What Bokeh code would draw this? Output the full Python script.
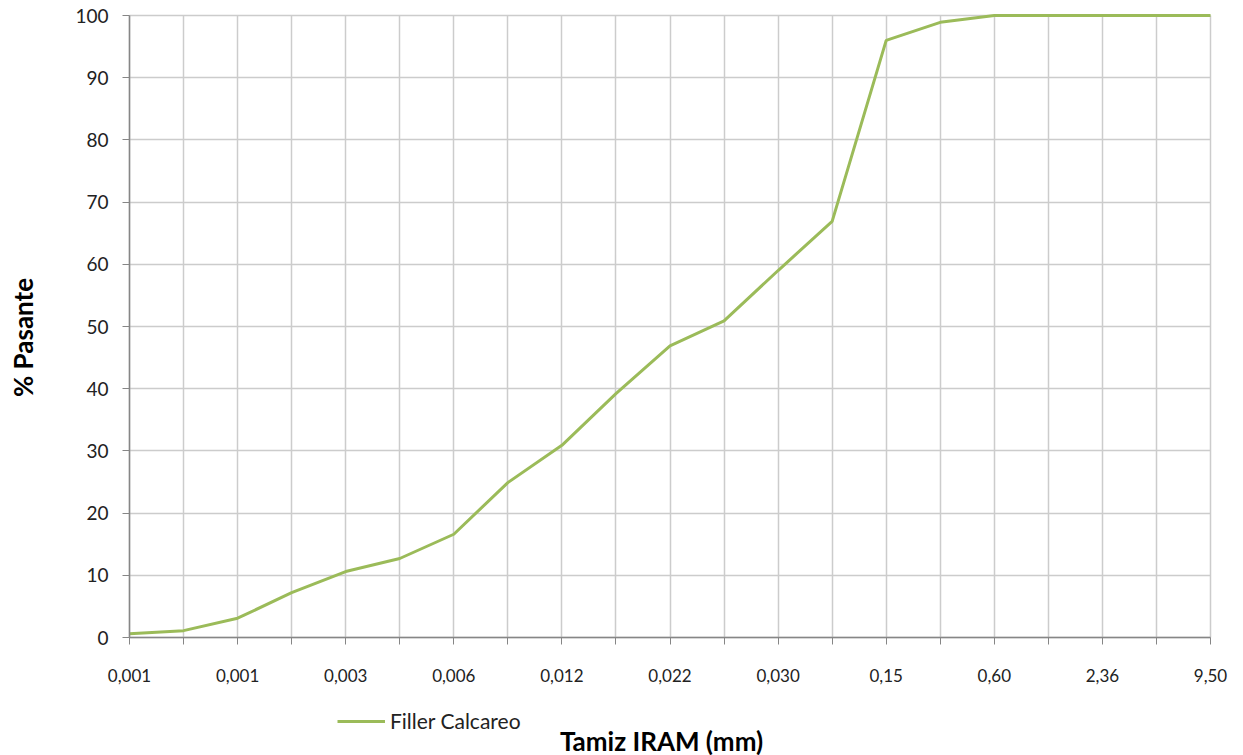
import math
from bokeh.plotting import figure
from bokeh.models import Range1d, FixedTicker, Legend, LegendItem, Label
from bokeh.embed import file_html
from bokeh.resources import INLINE

# data
positions = list(range(21))
pasante = [0.6, 1.1, 3.1, 7.2, 10.6, 12.7, 16.6, 24.9, 30.9, 39.2, 46.9, 50.9,
           59.0, 66.9, 96.0, 98.9, 100, 100, 100, 100, 100]
tick_labels = ["0,001", "0,001", "0,003", "0,006", "0,012", "0,022", "0,030",
               "0,15", "0,60", "2,36", "9,50"]
y_ticks = [0, 10, 20, 30, 40, 50, 60, 70, 80, 90, 100]
series_name = "Filler Calcareo"
x_title = "Tamiz IRAM (mm)"
y_title = "% Pasante"

FONT = "Lato"
W, H = 1243, 755
# plot-area pixel box (axes position)
PL, PR, PT, PB = 129, 1210, 15, 637
kx = (PR - PL) / 20.0
ky = (PB - PT) / 100.0


def px_x(px):
    return (px - PL) / kx


def px_y(py):
    return (PB - py) / ky


p = figure(width=W, height=H, output_backend="svg", toolbar_location=None,
           x_range=Range1d(px_x(0), px_x(W)), y_range=Range1d(px_y(H), px_y(0)),
           min_border_left=0, min_border_right=0, min_border_top=0,
           min_border_bottom=0)
p.outline_line_color = None
p.background_fill_color = "white"

r = p.line(positions, pasante, line_color="#9BBB59", line_width=3)

# x axis, pinned at y = 0
p.xaxis.fixed_location = 0
p.xaxis.bounds = (0, 20)
p.xaxis.ticker = FixedTicker(ticks=positions)
overrides = {}
for i in positions:
    overrides[i] = tick_labels[i // 2] if i % 2 == 0 else ""
p.xaxis.major_label_overrides = overrides
p.xaxis.minor_tick_line_color = None
p.xaxis.major_tick_in = 0
p.xaxis.major_tick_out = 7
p.xaxis.axis_line_color = "#868686"
p.xaxis.axis_line_width = 1.5
p.xaxis.major_tick_line_color = "#868686"
p.xaxis.major_label_text_font = FONT
p.xaxis.major_label_text_font_size = "17px"
p.xaxis.major_label_text_color = "#222222"
p.xaxis.major_label_standoff = 24

# y axis, pinned at x = 0
p.yaxis.fixed_location = 0
p.yaxis.bounds = (0, 100)
p.yaxis.ticker = FixedTicker(ticks=y_ticks)
p.yaxis.minor_tick_line_color = None
p.yaxis.major_tick_in = 0
p.yaxis.major_tick_out = 7
p.yaxis.axis_line_color = "#868686"
p.yaxis.axis_line_width = 1.5
p.yaxis.major_tick_line_color = "#868686"
p.yaxis.major_label_text_font = FONT
p.yaxis.major_label_text_font_size = "19px"
p.yaxis.major_label_text_color = "#222222"
p.yaxis.major_label_standoff = 14

# grid
p.xgrid.ticker = FixedTicker(ticks=positions)
p.ygrid.ticker = FixedTicker(ticks=y_ticks)
p.xgrid.cross_bounds = (0, 100)
p.ygrid.bounds = (0, 20)
p.ygrid.cross_bounds = (0, 20)
p.xgrid.bounds = (0, 20)
p.xgrid.grid_line_color = "#cccccc"
p.ygrid.grid_line_color = "#cccccc"
p.xgrid.grid_line_width = 1.5
p.ygrid.grid_line_width = 1.5

# axis titles
p.add_layout(Label(x=px_x(661), y=px_y(740), text=x_title, text_font=FONT,
                   text_font_style="bold", text_font_size="26px",
                   text_color="black", text_align="center",
                   text_baseline="middle"))
p.add_layout(Label(x=px_x(22), y=px_y(337), text=y_title, text_font=FONT,
                   text_font_style="bold", text_font_size="26px",
                   text_color="black", text_align="center",
                   text_baseline="middle", angle=math.pi / 2))

legend = Legend(items=[LegendItem(label=series_name, renderers=[r])],
                location=(337, 22), border_line_color=None,
                background_fill_alpha=0, label_text_font=FONT,
                label_text_font_size="21px", label_text_color="#222222",
                glyph_width=48, label_standoff=5, padding=0, margin=0,
                label_height=22, glyph_height=22)
p.add_layout(legend, "center")

open("out.html", "w").write(file_html(p, INLINE))
